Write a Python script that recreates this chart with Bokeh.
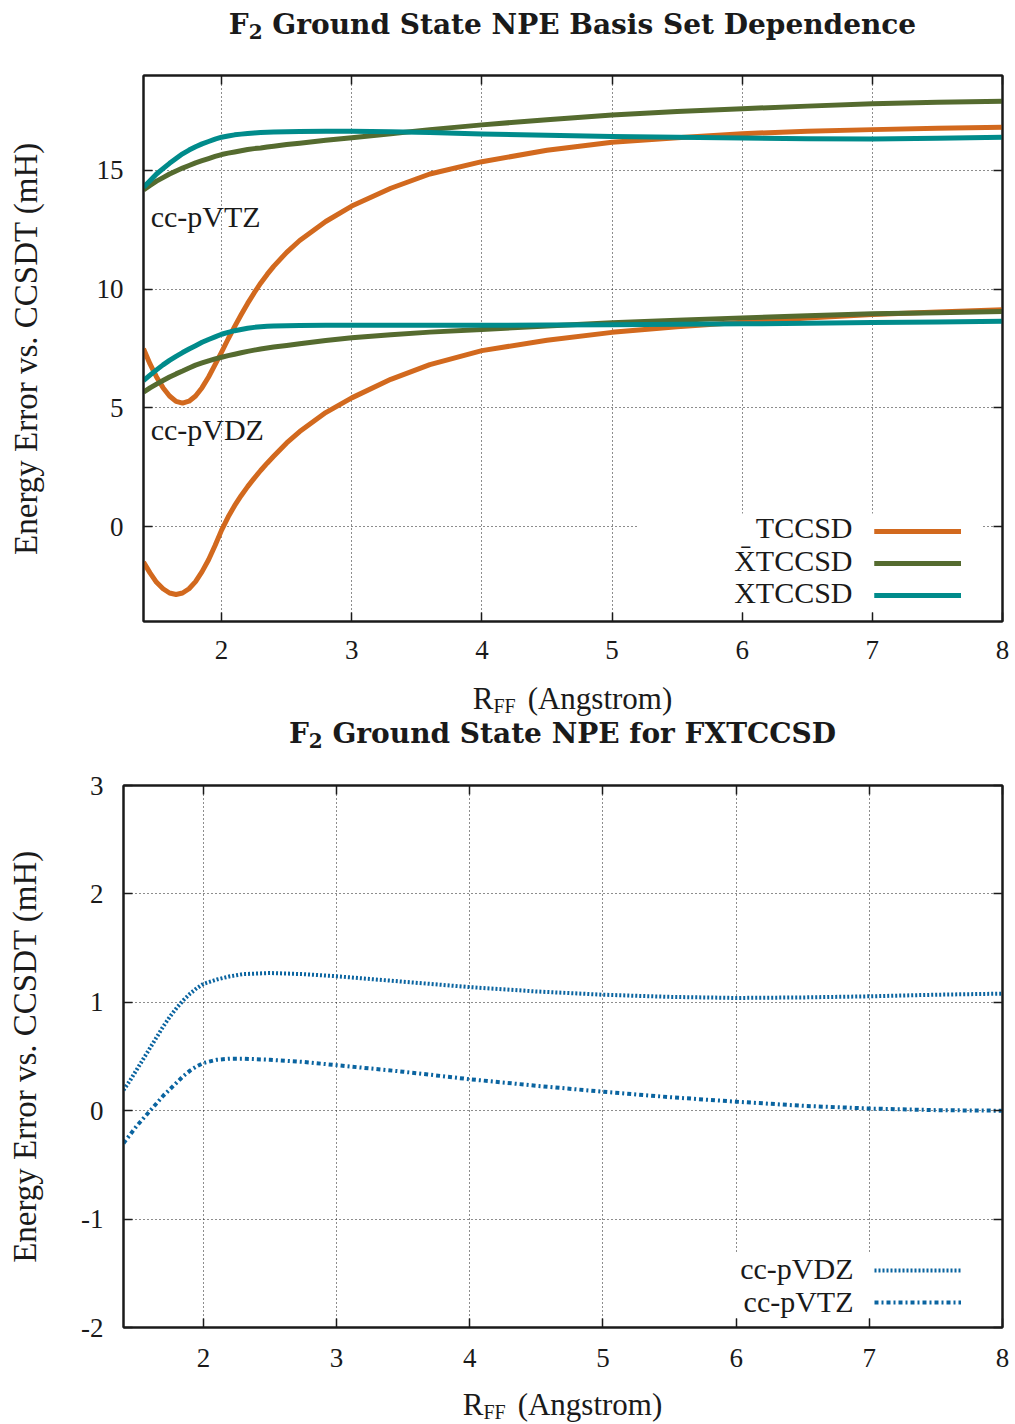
from bokeh.core.properties import value
from bokeh.embed import file_html
from bokeh.layouts import column, row
from bokeh.models import (BoxAnnotation, Div, FixedTicker, Label, Legend,
                          LegendItem, LinearAxis, Range1d)
from bokeh.plotting import figure
from bokeh.resources import INLINE

# ---------------------------------------------------------------------------
# Non-parallelity errors of F2 vs. CCSDT (mH) along the bond coordinate
# ---------------------------------------------------------------------------
r_ff = [1.40, 1.45, 1.50, 1.55, 1.60, 1.65, 1.70, 1.75, 1.80, 1.85, 1.90,
        1.95, 2.00, 2.05, 2.10, 2.15, 2.20, 2.25, 2.30, 2.35, 2.40, 2.50,
        2.60, 2.80, 3.00, 3.30, 3.60, 4.00, 4.50, 5.00, 5.50, 6.00, 6.50,
        7.00, 7.50, 8.00]

tccsd_dz = [-1.50, -1.95, -2.35, -2.62, -2.80, -2.86, -2.80, -2.62, -2.32,
            -1.90, -1.40, -0.80, -0.15, 0.40, 0.88, 1.30, 1.68, 2.03, 2.36,
            2.67, 2.96, 3.52, 4.00, 4.80, 5.42, 6.20, 6.82, 7.41, 7.85, 8.18,
            8.42, 8.61, 8.78, 8.93, 9.04, 9.13]
tccsd_tz = [7.49, 6.85, 6.30, 5.85, 5.50, 5.27, 5.20, 5.28, 5.50, 5.85, 6.30,
            6.82, 7.35, 7.90, 8.42, 8.92, 9.40, 9.84, 10.25, 10.62, 10.96,
            11.55, 12.05, 12.85, 13.50, 14.25, 14.85, 15.37, 15.85, 16.19,
            16.38, 16.55, 16.65, 16.72, 16.78, 16.82]
xbar_dz = [5.66, 5.84, 6.00, 6.15, 6.30, 6.43, 6.55, 6.68, 6.80, 6.89, 6.98,
           7.06, 7.13, 7.20, 7.26, 7.32, 7.38, 7.43, 7.48, 7.52, 7.56, 7.63,
           7.70, 7.84, 7.95, 8.08, 8.19, 8.30, 8.45, 8.58, 8.69, 8.79, 8.88,
           8.96, 9.01, 9.06]
xbar_tz = [14.18, 14.37, 14.55, 14.70, 14.85, 14.98, 15.10, 15.21, 15.32,
           15.41, 15.50, 15.59, 15.67, 15.73, 15.78, 15.83, 15.88, 15.92,
           15.95, 15.99, 16.02, 16.09, 16.15, 16.27, 16.38, 16.55, 16.72,
           16.92, 17.14, 17.34, 17.48, 17.60, 17.71, 17.81, 17.87, 17.92]
xt_dz = [6.15, 6.38, 6.60, 6.81, 7.00, 7.17, 7.33, 7.48, 7.62, 7.76, 7.88,
         7.99, 8.10, 8.18, 8.25, 8.30, 8.35, 8.39, 8.42, 8.44, 8.45, 8.46,
         8.47, 8.48, 8.48, 8.48, 8.48, 8.48, 8.49, 8.50, 8.52, 8.54, 8.56,
         8.59, 8.62, 8.65]
xt_tz = [14.29, 14.57, 14.85, 15.08, 15.30, 15.50, 15.70, 15.86, 16.00,
         16.12, 16.22, 16.32, 16.40, 16.45, 16.50, 16.53, 16.56, 16.58,
         16.60, 16.61, 16.62, 16.63, 16.64, 16.65, 16.65, 16.63, 16.60,
         16.54, 16.48, 16.43, 16.40, 16.37, 16.34, 16.33, 16.36, 16.40]

r_fx = [1.40, 1.45, 1.50, 1.55, 1.60, 1.65, 1.70, 1.75, 1.80, 1.85, 1.90,
        1.95, 2.00, 2.10, 2.20, 2.30, 2.50, 2.75, 3.00, 3.50, 4.00, 4.50,
        5.00, 5.50, 6.00, 6.50, 7.00, 7.50, 8.00]
fx_dz = [0.19, 0.28, 0.38, 0.48, 0.58, 0.68, 0.78, 0.87, 0.95, 1.02, 1.08,
         1.13, 1.17, 1.21, 1.24, 1.26, 1.27, 1.26, 1.24, 1.19, 1.14, 1.10,
         1.07, 1.05, 1.04, 1.045, 1.055, 1.07, 1.08]
fx_tz = [-0.30, -0.22, -0.14, -0.07, 0.00, 0.07, 0.14, 0.20, 0.26, 0.32,
         0.37, 0.41, 0.44, 0.47, 0.48, 0.48, 0.47, 0.45, 0.42, 0.36, 0.29,
         0.23, 0.175, 0.125, 0.083, 0.045, 0.02, 0.005, 0.00]

x_ticks = [2, 3, 4, 5, 6, 7, 8]
npe_ticks = [0, 5, 10, 15]
fx_ticks = [-2, -1, 0, 1, 2, 3]
fx_tick_text = {-2: "-2", -1: "-1"}

SERIF = "Liberation Serif"
INK = "#1a1a1a"
ORANGE = "#d2691e"
OLIVE = "#556b2f"
TEAL = "#008b8b"
BLUE = "#0a64a0"

TITLE_CSS = ("position:absolute;white-space:nowrap;text-align:center;"
             "font-family:DejaVu Serif;font-weight:bold;font-size:28px;"
             "line-height:28px;color:#1a1a1a;")
XLABEL_CSS = ("position:absolute;white-space:nowrap;text-align:center;"
              "font-family:Liberation Serif;font-size:31px;"
              "line-height:31px;color:#1a1a1a;")
SUB_CSS = "font-size:20px;vertical-align:-4px;line-height:0;"


def title_html(text, left, top, width):
    return (f'<div style="{TITLE_CSS}left:{left}px;top:{top}px;'
            f'width:{width}px;">F<sub style="font-size:20px;'
            f'vertical-align:-5px;line-height:0;">2</sub> {text}</div>')


def xlabel_html(left, top, width):
    return (f'<div style="{XLABEL_CSS}left:{left}px;top:{top}px;'
            f'width:{width}px;">R<sub style="{SUB_CSS}">FF</sub>'
            f'<span style="margin-left:12px;">(Angstrom)</span></div>')


def text_band(height, *parts):
    body = "".join(parts)
    return Div(text=f'<div style="position:relative;width:1015px;'
                    f'height:{height}px;">{body}</div>',
               width=1015, height=height, margin=0)


def style_axis(ax, ticks, standoff, show_labels=True):
    ax.ticker = FixedTicker(ticks=ticks)
    ax.axis_line_color = INK
    ax.axis_line_width = 2
    ax.major_tick_line_color = INK
    ax.major_tick_line_width = 1.5
    ax.major_tick_in = 9
    ax.major_tick_out = 0
    ax.minor_tick_line_color = None
    ax.major_label_standoff = standoff
    ax.major_label_text_font = SERIF
    if show_labels:
        ax.major_label_text_color = INK
        ax.major_label_text_font_size = "27px"
    else:
        ax.major_label_text_color = None
        ax.major_label_text_font_size = "0px"


def make_panel(height, left, top, bottom, y_range, y_ticks,
               ylabel_standoff, xlab_standoff):
    p = figure(width=1015, height=height, title=None,
               x_range=Range1d(1.4, 8.0), y_range=Range1d(*y_range),
               output_backend="svg", toolbar_location=None,
               min_border_left=left, min_border_right=13,
               min_border_top=top, min_border_bottom=bottom, margin=0)
    p.outline_line_color = INK
    p.outline_line_width = 2

    style_axis(p.xaxis[0], x_ticks, xlab_standoff)
    style_axis(p.yaxis[0], y_ticks, 20)
    p.yaxis[0].axis_label = "Energy Error vs. CCSDT (mH)"
    p.yaxis[0].axis_label_text_font = SERIF
    p.yaxis[0].axis_label_text_font_size = "33px"
    p.yaxis[0].axis_label_text_font_style = "normal"
    p.yaxis[0].axis_label_text_color = INK
    p.yaxis[0].axis_label_standoff = ylabel_standoff

    # mirrored ticks on the top and right borders
    top_ax = LinearAxis()
    style_axis(top_ax, x_ticks, 0, show_labels=False)
    p.add_layout(top_ax, "above")
    right_ax = LinearAxis()
    style_axis(right_ax, y_ticks, 0, show_labels=False)
    p.add_layout(right_ax, "right")

    p.xgrid.ticker = FixedTicker(ticks=x_ticks)
    p.ygrid.ticker = FixedTicker(ticks=y_ticks)
    p.grid.grid_line_color = INK
    p.grid.grid_line_width = 1
    p.grid.grid_line_dash = "1 3"
    return p


def add_key(p, mask, texts, text_x, text_ys, items, loc):
    l, r, b, t = mask
    p.add_layout(BoxAnnotation(left=l, right=r, bottom=b, top=t,
                               left_units="screen", right_units="screen",
                               bottom_units="screen", top_units="screen",
                               fill_color="white", fill_alpha=1.0,
                               line_color=None))
    for txt, ty in zip(texts, text_ys):
        p.add_layout(Label(x=text_x, y=ty, x_units="screen", y_units="screen",
                           text=txt, text_font=SERIF,
                           text_font_size="30px", text_color=INK,
                           text_align="right", text_baseline="middle"))
    leg = Legend(items=items, location=loc, padding=0, margin=0, spacing=12,
                 glyph_width=87, glyph_height=20, label_width=0,
                 label_height=20, label_standoff=0,
                 label_text_font_size="0px", label_text_color=None,
                 background_fill_alpha=0, border_line_alpha=0)
    p.add_layout(leg)


# ---------------------------- upper panel ----------------------------------
p1 = make_panel(627, 143, 30, 51, (-4, 19), npe_ticks, 50, 19)

kw = dict(line_width=5, line_join="round")
r_t_dz = p1.line(r_ff, tccsd_dz, line_color=ORANGE, **kw)
r_t_tz = p1.line(r_ff, tccsd_tz, line_color=ORANGE, **kw)
r_b_dz = p1.line(r_ff, xbar_dz, line_color=OLIVE, **kw)
r_b_tz = p1.line(r_ff, xbar_tz, line_color=OLIVE, **kw)
r_x_dz = p1.line(r_ff, xt_dz, line_color=TEAL, **kw)
r_x_tz = p1.line(r_ff, xt_tz, line_color=TEAL, **kw)

for txt, yv in (("cc-pVTZ", 13.06), ("cc-pVDZ", 4.09)):
    p1.add_layout(Label(x=1.455, y=yv, text=txt, text_font=SERIF,
                        text_font_size="30px", text_color=INK,
                        text_align="left", text_baseline="middle"))

add_key(p1, (494, 839, 10, 108),
        ["TCCSD", "X\u0304TCCSD", "XTCCSD"], 709, [94, 61, 29],
        [LegendItem(label=value(" "), renderers=[r_t_dz, r_t_tz]),
         LegendItem(label=value(" "), renderers=[r_b_dz, r_b_tz]),
         LegendItem(label=value(" "), renderers=[r_x_dz, r_x_tz])],
        (731, 16))

# ---------------------------- lower panel ----------------------------------
p2 = make_panel(620, 123, 25, 53, (-2, 3), fx_ticks, 35, 21)
p2.yaxis[0].major_label_overrides = fx_tick_text

r_f_dz = p2.line(r_fx, fx_dz, line_color=BLUE, line_width=4,
                 line_dash="2 2", line_join="round")
r_f_tz = p2.line(r_fx, fx_tz, line_color=BLUE, line_width=4,
                 line_dash="4 3 2 3", line_join="round")

add_key(p2, (597, 867, 10, 74),
        ["cc-pVDZ", "cc-pVTZ"], 730, [59, 26],
        [LegendItem(label=value(" "), renderers=[r_f_dz]),
         LegendItem(label=value(" "), renderers=[r_f_tz])],
        (751, 15))

# ----------------------- titles and x-axis captions ------------------------
band0 = text_band(45, title_html("Ground State NPE Basis Set Dependence",
                                 143, 11, 859))
band1 = text_band(88, xlabel_html(143, 11, 859),
                  title_html("Ground State NPE for FXTCCSD", 123, 48, 879))
band2 = text_band(44, xlabel_html(123, 9, 879))

# each panel sits in its own row so the two frames keep their own widths
layout = column(band0, row(p1, margin=0), band1, row(p2, margin=0), band2,
                spacing=0)
open("out.html", "w").write(file_html(layout, INLINE))
